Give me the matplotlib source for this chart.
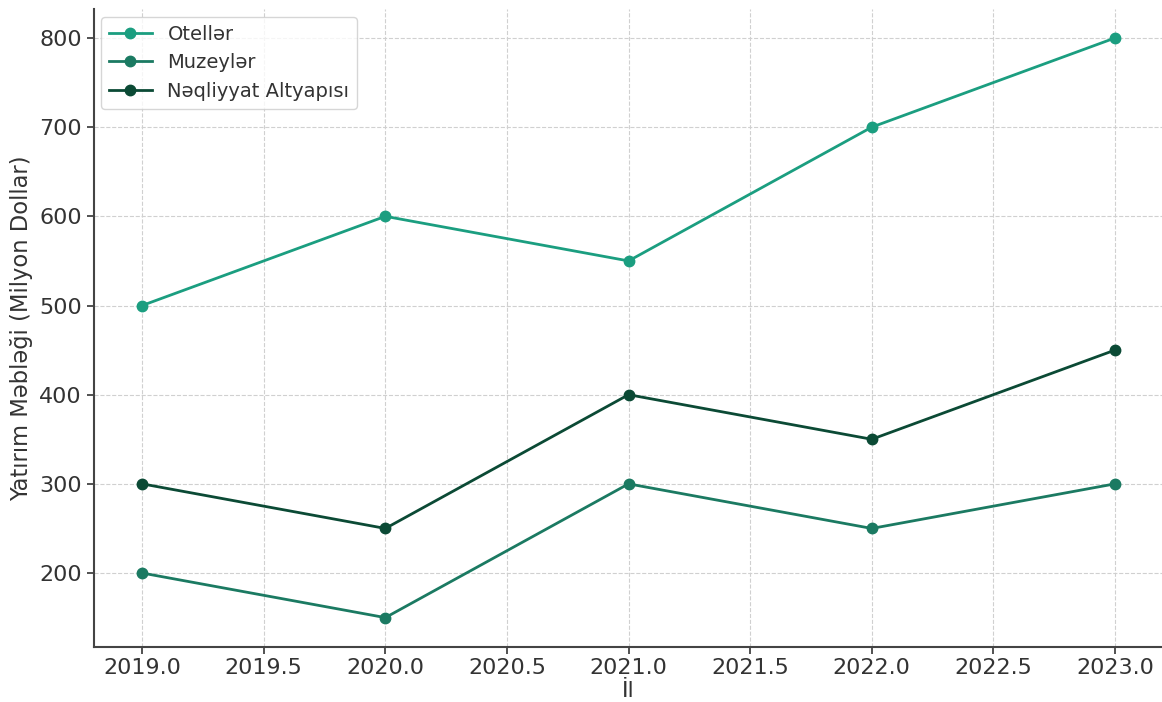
import matplotlib
matplotlib.use("Agg")
import matplotlib.pyplot as plt

years = [2019, 2020, 2021, 2022, 2023]
oteller = [500, 600, 550, 700, 800]
muzeyler = [200, 150, 300, 250, 300]
neqliyyat = [300, 250, 400, 350, 450]
series_names = ["Otellər", "Muzeylər", "Nəqliyyat Altyapısı"]
colors = ["#1b9e80", "#1b7a62", "#0b4a35"]
xticks = [2019.0, 2019.5, 2020.0, 2020.5, 2021.0, 2021.5, 2022.0, 2022.5, 2023.0]

plt.rcParams['font.family'] = ['DejaVu Sans']
fig = plt.figure(figsize=(11.62, 7.02), dpi=100)
W, H = 1162, 702
left, right = 93.5, 1163.6
bottom, top = 646.6, 9.0
ax = fig.add_axes([left / W, 1 - bottom / H, (right - left) / W, (bottom - top) / H])

for vals, name, c in zip([oteller, muzeyler, neqliyyat], series_names, colors):
    ax.plot(years, vals, marker='o', color=c, label=name, linewidth=2, markersize=7.5)

ax.grid(True, linestyle='--', color='#d0d0d0', linewidth=0.8)
ax.set_axisbelow(True)
for s in ['top', 'right']:
    ax.spines[s].set_visible(False)
for s in ['left', 'bottom']:
    ax.spines[s].set_color('#444444')
    ax.spines[s].set_linewidth(1.5)
ax.tick_params(labelsize=16, colors='#333333', length=5, width=1.2)
ax.set_xlabel("İl", fontsize=16, color='#333333', labelpad=2)
ax.set_ylabel("Yatırım Məbləği (Milyon Dollar)", fontsize=16.3, color='#333333')
ax.set_yticks([200, 300, 400, 500, 600, 700, 800])
ax.set_xticks(xticks)
ax.set_xticklabels([f"{v:.1f}" for v in xticks])
ax.legend(loc='upper left', fontsize=14, frameon=True, labelcolor='#333333',
          borderaxespad=0.4, handlelength=2.2)

fig.savefig("out.png", dpi=100)
